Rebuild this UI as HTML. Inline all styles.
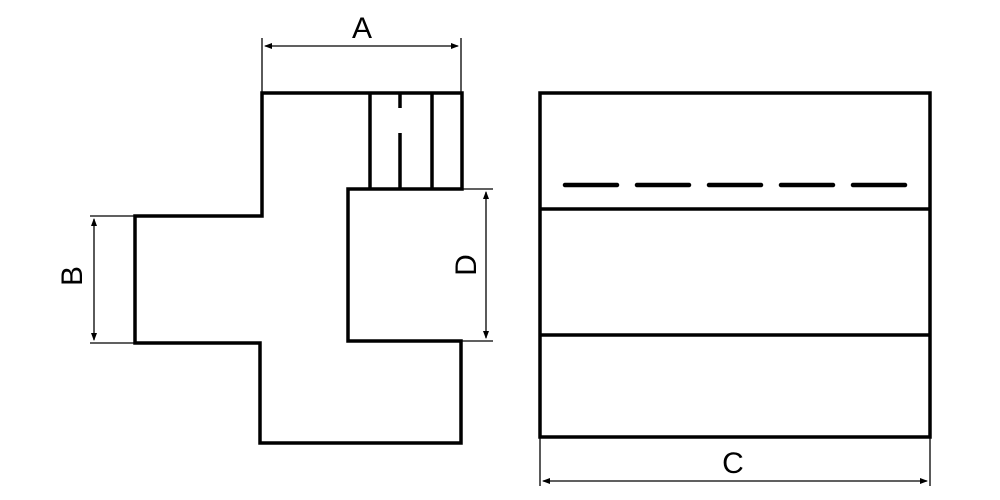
<!DOCTYPE html>
<html><head><style>body{margin:0;background:#fff}svg{display:block}</style></head><body>
<svg width="1000" height="500" viewBox="0 0 1000 500" xmlns="http://www.w3.org/2000/svg">
<defs>
<marker id="ar" markerWidth="8" markerHeight="6" refX="7" refY="3" orient="auto-start-reverse" markerUnits="userSpaceOnUse">
<path d="M0,0 L8,3 L0,6 Z" fill="#000"/></marker>
</defs>
<g fill="none" stroke="#000" stroke-width="3.5" stroke-linejoin="miter">
<path d="M262,93 L462,93 L462,189 L348,189 L348,341 L461,341 L461,443 L260,443 L260,343 L135,343 L135,216 L262,216 Z"/>
<line x1="370" y1="93" x2="370" y2="189"/>
<line x1="400" y1="93" x2="400" y2="108"/>
<line x1="400" y1="133" x2="400" y2="189"/>
<line x1="432" y1="93" x2="432" y2="189"/>
<rect x="540" y="93" width="390" height="344"/>
<line x1="540" y1="209" x2="930" y2="209"/>
<line x1="540" y1="335" x2="930" y2="335"/>
<line x1="565" y1="185" x2="907" y2="185" stroke-width="4.5" stroke-dasharray="52 20" stroke-linecap="round"/>
</g>
<g stroke="#000" stroke-width="1.3" fill="none">
<line x1="262" y1="38" x2="262" y2="93"/>
<line x1="461" y1="38" x2="461" y2="93"/>
<line x1="265" y1="46" x2="458" y2="46" marker-start="url(#ar)" marker-end="url(#ar)"/>
<line x1="90" y1="216" x2="135" y2="216"/>
<line x1="90" y1="343" x2="135" y2="343"/>
<line x1="94" y1="219" x2="94" y2="340" marker-start="url(#ar)" marker-end="url(#ar)"/>
<line x1="462" y1="189" x2="493" y2="189"/>
<line x1="462" y1="341" x2="493" y2="341"/>
<line x1="486" y1="192" x2="486" y2="338" marker-start="url(#ar)" marker-end="url(#ar)"/>
<line x1="540" y1="437" x2="540" y2="486"/>
<line x1="930" y1="437" x2="930" y2="486"/>
<line x1="543" y1="481" x2="927" y2="481" marker-start="url(#ar)" marker-end="url(#ar)"/>
</g>
<g font-family="Liberation Sans, sans-serif" font-size="30" fill="#000" text-anchor="middle">
<text x="362" y="38">A</text>
<text x="733" y="473">C</text>
<text transform="translate(82,276) rotate(-90)">B</text>
<text transform="translate(476,265) rotate(-90)">D</text>
</g>
</svg>
</body></html>
